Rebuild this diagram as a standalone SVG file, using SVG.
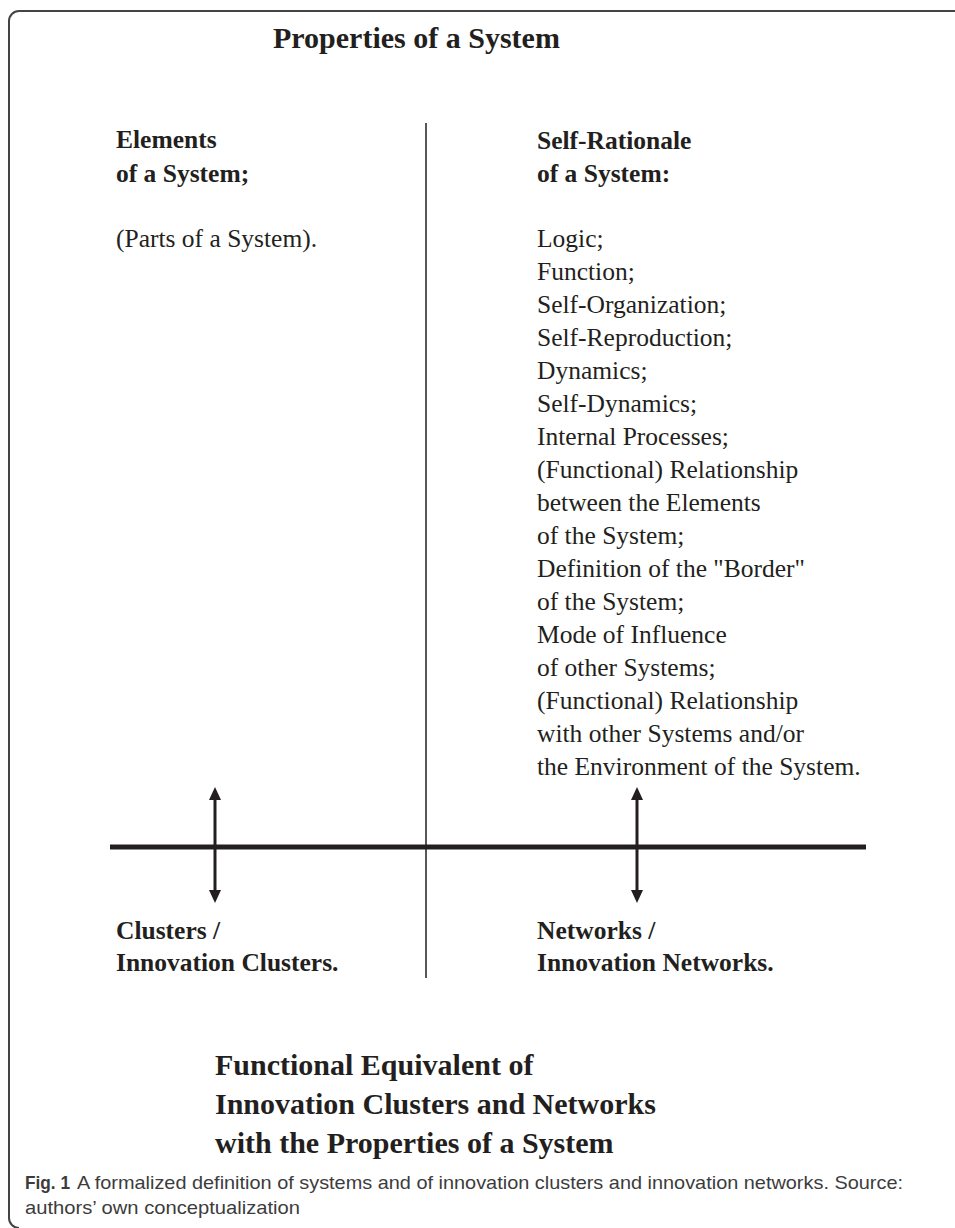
<svg xmlns="http://www.w3.org/2000/svg" width="955" height="1228" viewBox="0 0 955 1228">
<style>
.t{font-family:"Liberation Serif","Times New Roman",serif;fill:#231f20}
.b{font-weight:bold}
.title{font-size:30px;font-weight:bold}
.body{font-size:25.5px}
.cap{font-family:"Liberation Sans Narrow","Liberation Sans",Arial,sans-serif;font-size:19px;fill:#3c3c3c}
.ln{stroke:#231f20;fill:none}
</style>
<defs>
<marker id="ah" viewBox="0 0 13 12" refX="0" refY="6" markerWidth="13" markerHeight="12" markerUnits="userSpaceOnUse" orient="auto-start-reverse">
<path d="M0,0 L13,6 L0,12 z" fill="#231f20"/>
</marker>
</defs>
<rect width="955" height="1228" fill="#fff"/>
<path id="frame" d="M 960 11 H 19 A 10 10 0 0 0 9 21 V 1218 A 10 10 0 0 0 19 1228" fill="none" stroke="#444" stroke-width="2"/>

<g id="title"><text class="t title" x="273" y="48">Properties of a System</text></g>

<g id="elements">
<text class="t body b" x="116" y="148">Elements</text>
<text class="t body b" x="116" y="182">of a System;</text>
<text class="t body" x="116" y="247">(Parts of a System).</text>
</g>

<g id="self-rationale">
<text class="t body b" x="537" y="149">Self-Rationale</text>
<text class="t body b" x="537" y="182">of a System:</text>
<text class="t body" x="537" y="247">Logic;</text>
<text class="t body" x="537" y="280">Function;</text>
<text class="t body" x="537" y="313">Self-Organization;</text>
<text class="t body" x="537" y="346">Self-Reproduction;</text>
<text class="t body" x="537" y="379">Dynamics;</text>
<text class="t body" x="537" y="412">Self-Dynamics;</text>
<text class="t body" x="537" y="445">Internal Processes;</text>
<text class="t body" x="537" y="478">(Functional) Relationship</text>
<text class="t body" x="537" y="511">between the Elements</text>
<text class="t body" x="537" y="544">of the System;</text>
<text class="t body" x="537" y="577">Definition of the "Border"</text>
<text class="t body" x="537" y="610">of the System;</text>
<text class="t body" x="537" y="643">Mode of Influence</text>
<text class="t body" x="537" y="676">of other Systems;</text>
<text class="t body" x="537" y="709">(Functional) Relationship</text>
<text class="t body" x="537" y="742">with other Systems and/or</text>
<text class="t body" x="537" y="775">the Environment of the System.</text>
</g>

<g id="clusters">
<text class="t body b" x="116" y="939">Clusters /</text>
<text class="t body b" x="116" y="971">Innovation Clusters.</text>
</g>

<g id="networks">
<text class="t body b" x="537" y="939">Networks /</text>
<text class="t body b" x="537" y="971">Innovation Networks.</text>
</g>

<g id="connectors">
<line class="ln" x1="426" y1="123" x2="426" y2="978" stroke-width="1.5"/>
<line class="ln" x1="110" y1="847" x2="866" y2="847" stroke-width="5"/>
<line class="ln" x1="215" y1="800" x2="215" y2="890" stroke-width="3" marker-start="url(#ah)" marker-end="url(#ah)"/>
<line class="ln" x1="637" y1="800" x2="637" y2="890" stroke-width="3" marker-start="url(#ah)" marker-end="url(#ah)"/>
</g>

<g id="bottom-title">
<text class="t title" x="215" y="1075">Functional Equivalent of</text>
<text class="t title" x="215" y="1114">Innovation Clusters and Networks</text>
<text class="t title" x="215" y="1153">with the Properties of a System</text>
</g>

<g id="caption">
<text class="cap" x="25" y="1189" font-weight="bold" textLength="45" lengthAdjust="spacingAndGlyphs">Fig. 1</text>
<text class="cap" x="77" y="1189" textLength="826" lengthAdjust="spacingAndGlyphs">A formalized definition of systems and of innovation clusters and innovation networks. Source:</text>
<text class="cap" x="25" y="1214" textLength="275" lengthAdjust="spacingAndGlyphs">authors’ own conceptualization</text>
</g>
</svg>
